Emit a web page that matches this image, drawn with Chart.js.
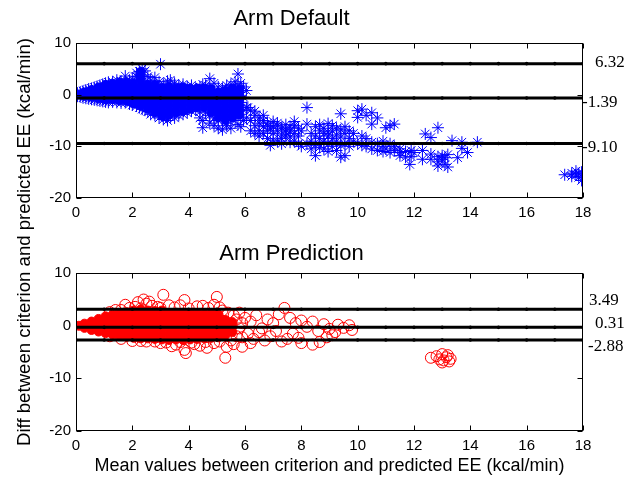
<!DOCTYPE html>
<html><head><meta charset="utf-8">
<script src="https://cdn.jsdelivr.net/npm/chart.js@4.4.1/dist/chart.umd.min.js"></script>
<style>
html,body{margin:0;padding:0;background:#fff;}
#wrap{position:relative;width:634px;height:479px;overflow:hidden;background:#fff;}
.c{position:absolute;left:0;}
#ylab{position:absolute;width:440px;height:22px;line-height:22px;left:-196px;top:231px;text-align:center;transform:rotate(-90deg);font:18.6px Arial,"Liberation Sans",sans-serif;color:#000;white-space:nowrap;}
</style></head><body>
<div id="wrap">
<canvas id="c1" class="c" width="634" height="240" style="top:0"></canvas>
<canvas id="c2" class="c" width="634" height="239" style="top:240px"></canvas>
<div id="ylab">Diff between criterion and predicted EE (kcal/min)</div>
</div>
<script>
// ---------------- DATA ----------------
const xTickValues = [0,2,4,6,8,10,12,14,16,18];
const yTickValues = [-20,-10,0,10];
const lineXs = [0,1,2,3,4,5,6,7,8,9,10,11,12,13,14,15,16,17,18];

const defaultTitle = 'Arm Default';
const defaultLimits = [6.0, -0.65, -9.45];
const defaultLimitLabels = ['6.32', '-1.39', '-9.10'];

const predictionTitle = 'Arm Prediction';
const predictionLimits = [3.15, -0.3, -2.7];
const predictionLimitLabels = ['3.49', '0.31', '-2.88'];

// Arm Default: dense core (columns: x, [y values])
const defaultCore = [
 [0.1,[0]],[0.3,[-0.3,0.5]],[0.55,[-0.5,0.3,1.0]],[0.8,[-0.8,0,0.8,1.5]],
 [1.05,[-1.0,-0.2,0.6,1.4,2.0]],[1.3,[-1.0,-0.2,0.6,1.4,2.2]],[1.55,[-1.2,-0.4,0.4,1.2,2.0,2.5]],
 [1.8,[-1.3,-0.5,0.3,1.1,1.9,2.5]],[2.05,[-1.8,-1.0,-0.2,0.6,1.4,2.2]],
 [2.3,[-2.2,-1.4,-0.6,0.2,1.0,1.8,2.8,3.8,4.5]],[2.55,[-2.8,-2.0,-1.2,-0.4,0.4,1.2,2.0]],
 [2.8,[-3.5,-2.7,-1.9,-1.1,-0.3,0.5,1.3,2.0]],[3.05,[-4.2,-3.4,-2.6,-1.8,-1.0,-0.2,0.6,1.4]],
 [3.3,[-4.0,-3.2,-2.4,-1.6,-0.8,0,0.8,1.6]],[3.55,[-3.5,-2.7,-1.9,-1.1,-0.3,0.5,1.3]],
 [3.8,[-3.2,-2.4,-1.6,-0.8,0,0.8,1.5]],[4.05,[-2.8,-2.0,-1.2,-0.4,0.4,1.2]],
 [4.3,[-2.5,-1.7,-0.9,-0.1,0.7,1.3]],[4.55,[-2.5,-1.7,-0.9,-0.1,0.7,1.3]],
 [4.8,[-3.5,-2.5,-1.7,-0.9,-0.1,0.7,1.2]],[5.05,[-4.5,-3.5,-2.5,-1.5,-0.5,0.5]],
 [5.3,[-5.0,-4.0,-3.0,-2.0,-1.0,0,0.8]],[5.55,[-4.5,-3.5,-2.5,-1.5,-0.5,0.5,1.3]],
 [5.8,[-4.0,-3.0,-2.0,-1.0,0,1.0]]
];
// Arm Default: individual asterisks (columns: x, [y values])
const defaultStars = [
 [0.05,[0,0.3,-0.3]],[0.15,[0.5,-0.4,0.1]],[0.25,[0.7,-0.6,0.2,-0.1]],[0.35,[0.9,-0.7,0.4,0]],
 [0.45,[1.1,-0.8,0.5,-0.2]],[0.55,[1.2,-0.9,0.6,0]],[0.65,[1.4,-1.0,0.7,0.1]],[0.75,[1.6,-1.1,0.8,-0.3]],
 [0.85,[1.8,-1.2,1.0,0.2]],[0.95,[2.0,-1.3,1.1,-0.2,0.6]],[1.05,[2.2,-1.4,1.2,0.3]],[1.15,[2.4,-1.5,1.3,-0.4,0.5]],
 [1.3,[2.5,-1.4,1.4,0.2]],[1.45,[2.8,-1.5,1.5,-0.3,0.7]],[1.6,[2.6,-1.6,1.2,0.1]],[1.75,[3.6,2.4,-1.5,0.9,-0.2]],
 [1.9,[2.8,-1.8,1.5,0.3]],[2.0,[3.0,-2.0,1.2,-0.5]],[2.15,[3.5,4.2,-2.2,1.0,0]],[2.25,[4.5,3.2,-2.5,1.8,0.3]],
 [2.35,[5.0,3.8,-2.8,1.5,-0.8]],[2.45,[4.6,2.5,-3.0,0.8]],[2.55,[3.5,-3.3,1.6,-1.2]],[2.65,[2.8,-3.8,1.2,-0.5,-2.0]],
 [2.8,[3.3,-4.0,2.0,-1.5,0.5]],[2.95,[2.5,-4.5,-3.0,1.0,-0.8]],[3.0,[5.9]],[3.1,[2.0,-4.8,-2.5,0.5,-1.2]],
 [3.25,[2.6,-5.0,-3.5,1.2,-0.5]],[3.35,[2.8,-4.3,-2.0,0.8,-1.3]],[3.5,[2.2,-4.5,-3.0,1.5,-0.2]],
 [3.65,[1.8,-4.0,-2.5,0.5,-1.0]],[3.8,[2.0,-3.8,-2.0,1.2,-0.5]],[3.95,[1.5,-3.5,-2.8,0.5,-1.2]],
 [4.1,[1.8,-3.2,-2.0,0.8,-0.6]],[4.25,[1.2,-3.0,-1.8,0.3,-0.9]],[4.4,[1.5,-3.3,-4.5,0.7,-1.5]],
 [4.5,[-6.4,-5.0,2.0]],[4.6,[1.8,-3.5,-1.2,0.5]],[4.75,[3.1,1.0,-4.0,-5.5,-1.8]],[4.9,[2.2,0.2,-4.5,-6.0,-2.5]],
 [5.05,[1.5,-0.5,-5.0,-6.5,-3.2]],[5.2,[1.2,-1.0,-4.2,-6.8,-2.8]],[5.35,[1.8,-0.3,-5.5,-6.0,-3.5]],
 [5.5,[2.0,0.8,-4.5,-6.5,-2.0]],[5.65,[2.5,1.2,-5.0,-3.0,0]],[5.75,[4.0,1.8,-5.8,-2.0]],
 [5.85,[2.2,0.5,-3.8,-1.5,-6.2]],[5.95,[1.5,-0.5,-3.0,-5.0]],[6.05,[0.8,-2.5,-4.5]],[6.1,[-2.5]],
 [6.2,[-3.0,-5.0,-7.0]],[6.35,[-4.0,-6.0,-7.5,-3.2]],[6.5,[-4.5,-5.5,-7.0,-8.0]],[6.65,[-5.0,-6.2,-4.0,-7.5]],
 [6.8,[-5.5,-7.0,-8.5,-6.0]],[6.9,[-9.8,-6.5]],[7.0,[-5.2,-7.5,-8.8,-6.2]],[7.15,[-6.0,-7.0,-9.0,-5.5]],
 [7.3,[-6.5,-7.8,-8.5,-9.5]],[7.45,[-5.8,-7.2,-8.0,-6.8]],[7.6,[-7.0,-8.2,-9.2,-6.3]],[7.75,[-6.0,-7.5,-9.0,-5.2]],
 [7.9,[-6.5,-8.0,-9.5]],[8.0,[-7.0,-10.0]],[8.2,[-2.5,-5.7,-9.5]],[8.35,[-7.5,-9.0,-10.5]],
 [8.5,[-6.2,-8.0,-11.8,-9.8]],[8.65,[-5.8,-7.0,-8.5,-10.2]],[8.8,[-6.5,-7.5,-9.0,-10.5]],
 [8.95,[-5.6,-7.2,-8.0,-9.5,-11.0]],[9.1,[-6.0,-7.0,-8.5,-10.0]],[9.25,[-6.5,-7.8,-9.0,-10.8]],
 [9.4,[-3.7,-6.8,-8.2,-12.1,-9.8]],[9.55,[-6.2,-7.5,-9.5,-11.8]],[9.7,[-7.0,-8.5,-10.0]],[9.85,[-7.5,-9.0]],
 [10.0,[-3.1,-4.4,-9.5]],[10.15,[-2.8,-8.0,-9.8]],[10.3,[-4.0,-10.0,-8.5]],[10.5,[-3.5,-5.7,-10.5,-9.2]],
 [10.7,[-4.5,-9.5,-10.8]],[10.9,[-10.0,-11.0,-9.0]],[11.0,[-6.4,-10.5]],[11.15,[-9.5,-11.2,-6.0]],
 [11.3,[-5.7,-10.0,-10.8]],[11.5,[-11.2,-11.8,-10.5]],[11.7,[-12.1,-11.0]],[11.85,[-13.5]],
 [11.9,[-10.8,-12.0]],[12.0,[-11.2]],[12.3,[-10.8,-12.5]],[12.4,[-7.6]],[12.6,[-8.3,-11.5,-12.5]],
 [12.85,[-6.4,-12.0,-13.0,-13.8]],[13.0,[-12.5,-11.8]],[13.1,[-13.5,-12.2]],[13.2,[-11.6,-14.0]],
 [13.35,[-8.9]],[13.55,[-12.2]],[13.7,[-9.2,-10.4]],[13.9,[-11.2]],[14.25,[-9.2]],
 [17.35,[-15.5]],[17.6,[-15.2,-15.8]],[17.75,[-14.8,-15.5]],[17.85,[-16.0,-15.3]],[17.95,[-15.0,-16.6,-15.8]]
];

// Arm Prediction: dense core (columns: x, [y values])
const predictionCore = [
 [0.1,[0]],[0.3,[-0.4,0.4]],[0.55,[-0.8,0,0.8]],[0.8,[-1.1,-0.3,0.6,1.3]],
 [1.05,[-1.4,-0.6,0.3,1.2,1.8]],[1.3,[-1.7,-0.8,0.2,1.2,2.1]],[1.55,[-1.9,-1.0,0,1.0,2.0,2.4]],
 [1.8,[-2.1,-1.2,-0.2,0.8,1.8,2.6]],[2.05,[-2.3,-1.5,-0.5,0.5,1.5,2.5,2.9]],[2.3,[-2.4,-1.5,-0.5,0.5,1.5,2.5,3.1]],
 [2.55,[-2.4,-1.5,-0.5,0.5,1.5,2.5,2.9]],[2.8,[-2.5,-1.5,-0.5,0.5,1.5,2.5,2.8]],[3.05,[-2.6,-1.5,-0.5,0.5,1.5,2.5,2.9]],
 [3.3,[-2.7,-1.5,-0.5,0.5,1.5,2.4]],[3.55,[-2.6,-1.5,-0.5,0.5,1.5,2.5]],[3.8,[-2.7,-1.5,-0.5,0.5,1.5,2.4]],
 [4.05,[-2.6,-1.5,-0.5,0.5,1.5,2.4]],[4.3,[-2.5,-1.5,-0.5,0.5,1.5,2.3]],[4.55,[-2.4,-1.5,-0.5,0.5,1.5,2.2]],
 [4.8,[-2.3,-1.4,-0.5,0.5,1.5,2.4]],[5.05,[-2.2,-1.3,-0.4,0.6,1.6,2.2]],[5.3,[-1.8,-0.9,0.1,1.1]],
 [5.55,[-1.2,-0.2,0.7]]
];
// Arm Prediction: individual circles (columns: x, [y values])
const predictionCircles = [
 [1.2,[2.6,-2.0]],[1.4,[3.0]],[1.6,[3.0,-2.5]],[1.75,[4.0]],[1.9,[3.4]],[2.0,[-2.9]],[2.1,[3.6]],
 [2.2,[4.5]],[2.3,[3.3,-2.9]],[2.4,[5.0]],[2.5,[4.2,-3.0]],[2.6,[4.6]],[2.7,[3.8]],[2.8,[-3.0]],
 [2.9,[3.6]],[3.0,[-3.3,3.4]],[3.1,[5.9]],[3.2,[-3.2]],[3.3,[3.9]],[3.4,[-3.9]],[3.5,[3.5]],[3.55,[-3.6]],
 [3.7,[3.9,-3.1]],[3.85,[4.9,-4.6]],[3.9,[-5.2]],[4.0,[3.3]],[4.1,[-3.2]],[4.2,[-3.5]],[4.3,[3.7]],
 [4.4,[-3.8]],[4.5,[3.8]],[4.6,[-3.1]],[4.65,[-4.2]],[4.7,[3.4]],[4.9,[4.0,-3.3]],[5.0,[5.5]],
 [5.1,[3.5,-3.0]],[5.2,[2.9]],[5.3,[-6.1]],[5.35,[-4.0]],[5.4,[2.5]],[5.5,[-2.8]],[5.6,[-3.5,2.0]],
 [5.7,[1.2,-2.0]],[5.8,[2.5,-0.5]],[5.9,[-4.0,-2.2,0.5]],[6.0,[1.5]],[6.1,[-1.5]],
 [6.2,[0.8,-3.3]],[6.3,[-2.5]],[6.4,[2.0]],[6.5,[-1.2]],[6.6,[-0.5]],[6.7,[-2.8]],[6.8,[1.2]],[6.9,[-2.0]],
 [7.0,[0.5]],[7.1,[-1.0]],[7.2,[2.2]],[7.3,[-3.0]],[7.4,[3.4]],[7.5,[-2.5]],[7.6,[1.5]],[7.7,[-1.5]],
 [7.8,[0.5]],[7.9,[-2.3]],[8.0,[1.0,-3.3]],[8.2,[-0.2]],[8.4,[0.8,-3.6]],[8.6,[-1.0]],[8.65,[-3.1]],
 [8.8,[0.3]],[8.9,[-2.2]],[9.0,[-0.6]],[9.1,[-1.8]],[9.2,[-1.2]],[9.3,[0.2]],[9.5,[-0.4]],[9.7,[0.1]],[9.8,[-0.8]],
 [12.6,[-6.1]],[12.8,[-5.8]],[12.9,[-6.4]],[13.0,[-5.4,-7.0]],[13.05,[-6.6]],[13.15,[-6.0]],[13.2,[-5.6]],
 [13.25,[-6.8]],[13.3,[-6.3]]
];

// ---------------- HELPERS ----------------
const toPoints = cols => cols.flatMap(([x, ys]) => ys.map(y => ({x, y})));
const FONT = 'Arial, "Liberation Sans", sans-serif';

const framePlugin = {
  id: 'frame',
  afterDatasetsDraw(chart, args, o) {
    const {ctx, chartArea: a, scales: {x, y}} = chart;
    ctx.save();
    ctx.strokeStyle = '#000'; ctx.lineWidth = 1;
    const L = Math.round(a.left) + 0.5, R = Math.round(a.right) - 0.5,
          T = Math.round(a.top) + 0.5, B = Math.round(a.bottom) - 0.5;
    ctx.strokeRect(L, T, R - L, B - T);
    ctx.beginPath();
    xTickValues.forEach(v => { const p = Math.round(x.getPixelForValue(v)) + 0.5;
      ctx.moveTo(p, B); ctx.lineTo(p, B - 5); ctx.moveTo(p, T); ctx.lineTo(p, T + 5); });
    yTickValues.forEach(v => { const p = Math.round(y.getPixelForValue(v)) + 0.5;
      ctx.moveTo(L, p); ctx.lineTo(L + 5, p); ctx.moveTo(R, p); ctx.lineTo(R - 5, p); });
    ctx.stroke();
    ctx.fillStyle = '#000';
    ctx.font = '17px "Times New Roman","Liberation Serif",serif';
    ctx.textBaseline = 'middle'; ctx.textAlign = 'left';
    o.labels.forEach((t, i) => ctx.fillText(t, a.right + o.dx[i], y.getPixelForValue(o.at[i])));
    ctx.restore();
  }
};

function makeChart(id, cfg) {
  const lineSets = cfg.limits.map(v => ({
    type: 'line', showLine: true, data: lineXs.map(x => ({x, y: v})),
    borderColor: '#000', borderWidth: 3, pointRadius: 1.8, pointBackgroundColor: '#000',
    pointBorderWidth: 0, order: 0
  }));
  const datasets = [
    ...lineSets,
    { data: toPoints(cfg.marks), pointStyle: cfg.style, pointRadius: cfg.radius,
      borderColor: cfg.color, backgroundColor: 'rgba(0,0,0,0)', borderWidth: 1, order: 1 },
    { data: toPoints(cfg.core), pointStyle: 'circle', pointRadius: cfg.coreRadius,
      borderColor: cfg.color, backgroundColor: cfg.color, borderWidth: 1, order: 2 }
  ];
  return new Chart(document.getElementById(id), {
    type: 'scatter',
    data: { datasets },
    options: {
      responsive: false, animation: false, events: [],
      layout: { padding: { left: 0, right: 51, top: 0, bottom: 0 } },
      plugins: {
        legend: { display: false }, tooltip: { enabled: false },
        title: { display: true, text: cfg.title, color: '#000',
          font: { family: FONT, size: 22, weight: 'normal' }, padding: cfg.titlePad },
        frame: { labels: cfg.limitLabels, at: cfg.labelAt, dx: cfg.labelDx }
      },
      scales: {
        x: { type: 'linear', min: 0, max: 18,
          afterBuildTicks: s => { s.ticks = xTickValues.map(v => ({value: v})); },
          afterFit: s => { s.height = cfg.xHeight; },
          grid: { display: false, drawTicks: false }, border: { display: false },
          ticks: { color: '#000', padding: 6, maxRotation: 0, autoSkip: false,
            font: { family: FONT, size: 15 } },
          title: cfg.xTitle ? { display: true, text: cfg.xTitle, color: '#000',
            font: { family: FONT, size: 18 }, padding: { top: 0, bottom: 2 } } : { display: false }
        },
        y: { type: 'linear', min: -20, max: 10,
          afterBuildTicks: s => { s.ticks = yTickValues.map(v => ({value: v})); },
          afterFit: s => { s.width = 76; },
          grid: { display: false, drawTicks: false }, border: { display: false },
          ticks: { color: '#000', padding: 5, font: { family: FONT, size: 15 } }
        }
      }
    },
    plugins: [framePlugin]
  });
}

makeChart('c1', {
  title: defaultTitle, limits: defaultLimits, limitLabels: defaultLimitLabels,
  labelAt: [6.2, -1.5, -10.2], labelDx: [12, -1, -1],
  marks: defaultStars, core: defaultCore, style: 'star', radius: 6, coreRadius: 4,
  color: '#0000ff', titlePad: { top: 6, bottom: 10.6 }, xHeight: 42, xTitle: null
});
makeChart('c2', {
  title: predictionTitle, limits: predictionLimits, limitLabels: predictionLimitLabels,
  labelAt: [4.9, 0.5, -4.0], labelDx: [6, 12, 5],
  marks: predictionCircles, core: predictionCore, style: 'circle', radius: 5.5, coreRadius: 4.5,
  color: '#ff0000', titlePad: { top: 0.5, bottom: 6.4 }, xHeight: 48.3,
  xTitle: 'Mean values between criterion and predicted EE (kcal/min)'
});
</script>
</body></html>
